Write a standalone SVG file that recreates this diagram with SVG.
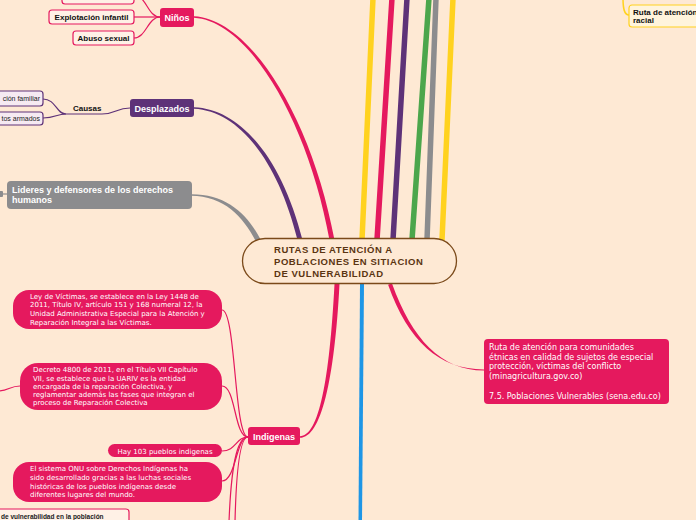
<svg xmlns="http://www.w3.org/2000/svg" width="696" height="520" viewBox="0 0 696 520">
<style>
.bg{fill:#FEE9D4}
.br{fill:none;stroke-linecap:round}
.thin{fill:none;stroke:#E5195E;stroke-width:1.2}
.lbl{font-family:"Liberation Sans",Arial,sans-serif;font-weight:bold}
.wt{fill:#FFFFFF}
.body{font-family:"DejaVu Sans",Verdana,sans-serif;fill:#FFFFFF;font-size:7px}
.sub{fill:#FFF1E6;stroke:#E5195E;stroke-width:1.2}
.pk{fill:#E5195E}
</style>
<rect class="bg" x="0" y="0" width="696" height="520"/>
<g id="connectors">
  <!-- top lines -->
  <path class="br" stroke="#FFD21F" stroke-width="5.5" d="M373,-2 L362,240"/>
  <path class="br" stroke="#E5195E" stroke-width="5.5" d="M392,-2 L377,240"/>
  <path class="br" stroke="#5E3278" stroke-width="5.5" d="M407,-2 L393,240"/>
  <path class="br" stroke="#4CA64C" stroke-width="5.5" d="M429,-2 L412,240"/>
  <path class="br" stroke="#8C8C8E" stroke-width="5.5" d="M436,-2 L427,240"/>
  <path class="br" stroke="#FFD21F" stroke-width="5.5" d="M453,-2 L442,240"/>
  <!-- main branches (tapered) -->
  <path fill="#E5195E" d="M194,16.2 C251,19 312,119 334.5,240 L329.5,240 C308,121 249,21 194,17.8 Z"/>
  <path fill="#5E3278" d="M194,107.2 C241,109 282,159 302.5,240 L297.5,240 C278,161 239,111 194,108.8 Z"/>
  <path fill="#8C8C8E" d="M191,194.2 C226,194 247,213.5 260.2,238.8 L255.8,241.2 C243,216.5 224,196 191,195.8 Z"/>
  <path fill="#E5195E" d="M334.5,284 C329.5,380 319,436.2 300,436.2 L300,437.8 C321,437.8 334.5,380 339.5,284 Z"/>
  <path fill="#1E96E6" d="M360,284 L358.5,522 L362,522 L364,284 Z"/>
  <path fill="#E5195E" d="M388.1,284.7 C408,341 439,369.4 484,369.4 L484,370.6 C441,370.6 412,339 391.9,283.3 Z"/>
  <!-- Niños children -->
  <path class="thin" d="M160,17 L134,17"/>
  <path class="thin" d="M160,17 C148,17 146,38 134,38"/>
  <path class="thin" d="M160,17 C150,17 148,4 140,-3"/>
  <!-- Desplazados children -->
  <path fill="none" stroke="#5E3278" stroke-width="1.2" d="M130,108 C116,108 116,114 102,114 L66,114"/>
  <path fill="none" stroke="#5E3278" stroke-width="1.2" d="M66,114 C56,114 56,99 43,99"/>
  <path fill="none" stroke="#5E3278" stroke-width="1.2" d="M66,114 C56,114 56,118 43,118"/>
  <!-- Lideres -->
  <path fill="none" stroke="#8C8C8E" stroke-width="1.2" d="M7,194 L3,194"/>
  <!-- Indigenas children -->
  <path class="thin" d="M248,437 C234,437 236,310 222,310"/>
  <path class="thin" d="M248,437 C234,437 236,386 222,386"/>
  <path class="thin" d="M248,437 C236,437 236,451 222,451"/>
  <path class="thin" d="M248,437 C236,437 236,481 222,481"/>
  <path class="thin" d="M248,437 C236,437 231,470 229,522"/>
  <path class="thin" d="M248,437 C239,437 236,480 235,522"/>
  <path class="thin" d="M20,386 C10,386 8,391 -2,391"/>
  <!-- racial -->
  <path fill="none" stroke="#FFD21F" stroke-width="1.5" d="M623,-2 C623,8 624,15 629,15"/>
</g>
<g id="center">
  <rect x="242.5" y="238.5" width="214" height="45" rx="22.5" fill="#FEE9D4" stroke="#7B4A1A" stroke-width="1.3"/>
  <text class="lbl" font-size="9.5" letter-spacing="0.55" fill="#5B3512"><tspan x="274" y="253">RUTAS DE ATENCIÓN A</tspan><tspan x="274" y="265">POBLACIONES EN SITIACION</tspan><tspan x="274" y="277">DE  VULNERABILIDAD</tspan></text>
</g>
<g id="ninos">
  <rect x="160" y="8" width="34" height="19" rx="3" class="pk"/>
  <text class="lbl wt" font-size="9" x="177" y="20.5" text-anchor="middle">Niños</text>
</g>
<g id="ninos-top">
  <rect x="62" y="-10" width="72" height="14" rx="3" class="sub"/>
</g>
<g id="explotacion">
  <rect x="49" y="10" width="85" height="14" rx="3" class="sub"/>
  <text class="lbl" font-size="8" x="91.5" y="20" text-anchor="middle" fill="#111">Explotación infantil</text>
</g>
<g id="abuso">
  <rect x="73" y="31" width="61" height="14" rx="3" class="sub"/>
  <text class="lbl" font-size="8" x="103.5" y="41" text-anchor="middle" fill="#111">Abuso sexual</text>
</g>
<g id="desplazados">
  <rect x="130" y="99" width="64" height="18" rx="3" fill="#5E3278"/>
  <text class="lbl wt" font-size="9" x="162" y="111.5" text-anchor="middle">Desplazados</text>
</g>
<g id="causas">
  <text class="lbl" font-size="8" x="73" y="111" fill="#111">Causas</text>
</g>
<g id="familiar">
  <rect x="-10" y="91" width="53" height="15" rx="3" fill="#F6EAF2" stroke="#5E3278" stroke-width="1.2"/>
  <text font-family="Liberation Sans, Arial, sans-serif" font-size="7" x="40" y="101" text-anchor="end" fill="#222">ción familiar</text>
</g>
<g id="armados">
  <rect x="-10" y="112" width="53" height="13" rx="3" fill="#F6EAF2" stroke="#5E3278" stroke-width="1.2"/>
  <text font-family="Liberation Sans, Arial, sans-serif" font-size="7" x="40" y="121" text-anchor="end" fill="#222">tos armados</text>
</g>
<g id="lideres">
  <rect x="7" y="181" width="185" height="28" rx="4" fill="#8C8C8E"/>
  <text class="lbl wt" font-size="9"><tspan x="12" y="193">Lideres y defensores de los derechos</tspan><tspan x="12" y="203">humanos</tspan></text>
  <rect x="-2" y="191" width="5" height="6" rx="1" fill="#8C8C8E"/>
</g>
<g id="indigenas">
  <rect x="248" y="427" width="52" height="18" rx="3" class="pk"/>
  <text class="lbl wt" font-size="9" x="274" y="439.5" text-anchor="middle">Indigenas</text>
</g>
<g id="ley">
  <rect x="13" y="290" width="209" height="39" rx="16" class="pk"/>
  <text class="body"><tspan x="30" y="298.5">Ley de Víctimas, se establece en la Ley 1448 de</tspan><tspan x="30" y="307">2011, Título IV, artículo 151 y 168 numeral 12, la</tspan><tspan x="30" y="316">Unidad Administrativa Especial para la Atención y</tspan><tspan x="30" y="324.5">Reparación Integral a las Víctimas.</tspan></text>
</g>
<g id="decreto">
  <rect x="20" y="363" width="202" height="47" rx="18" class="pk"/>
  <text class="body"><tspan x="33" y="372">Decreto 4800 de 2011, en el Título VII Capítulo</tspan><tspan x="33" y="380.5">VII, se establece que la UARIV es la entidad</tspan><tspan x="33" y="388.5">encargada de la reparación Colectiva, y</tspan><tspan x="33" y="397">reglamentar además las fases que integran el</tspan><tspan x="33" y="405">proceso de Reparación Colectiva</tspan></text>
</g>
<g id="hay103">
  <rect x="108" y="444" width="114" height="13" rx="6.5" class="pk"/>
  <text class="body" x="165" y="453.5" text-anchor="middle">Hay 103 pueblos indigenas</text>
</g>
<g id="onu">
  <rect x="13" y="462" width="209" height="40" rx="16" class="pk"/>
  <text class="body"><tspan x="30" y="471">El sistema ONU sobre Derechos Indígenas ha</tspan><tspan x="30" y="480">sido desarrollado gracias a las luchas sociales</tspan><tspan x="30" y="488.5">históricas de los pueblos indígenas desde</tspan><tspan x="30" y="497">diferentes lugares del mundo.</tspan></text>
</g>
<g id="vulnerabilidad">
  <rect x="-10" y="509" width="139" height="20" rx="3" class="sub"/>
  <text class="lbl" font-size="6.5" x="1" y="519" fill="#222">de vulnerabilidad en la población</text>
</g>
<g id="etnicas">
  <rect x="484" y="339" width="185" height="65" rx="4" class="pk"/>
  <text font-family="DejaVu Sans, Verdana, sans-serif" font-size="8" fill="#FFFFFF"><tspan x="489" y="350">Ruta de atención para comunidades</tspan><tspan x="489" y="359.7">étnicas en calidad de sujetos de especial</tspan><tspan x="489" y="369.4">protección, víctimas del conflicto</tspan><tspan x="489" y="379.1">(minagricultura.gov.co)</tspan><tspan x="489" y="398.5">7.5. Poblaciones Vulnerables (sena.edu.co)</tspan></text>
</g>
<g id="racial">
  <rect x="629" y="5" width="80" height="22" rx="3" fill="#FFF4DC" stroke="#FFD21F" stroke-width="1.2"/>
  <text class="lbl" font-size="8" fill="#111"><tspan x="633" y="15">Ruta de atención</tspan><tspan x="633" y="23">racial</tspan></text>
</g>
</svg>
